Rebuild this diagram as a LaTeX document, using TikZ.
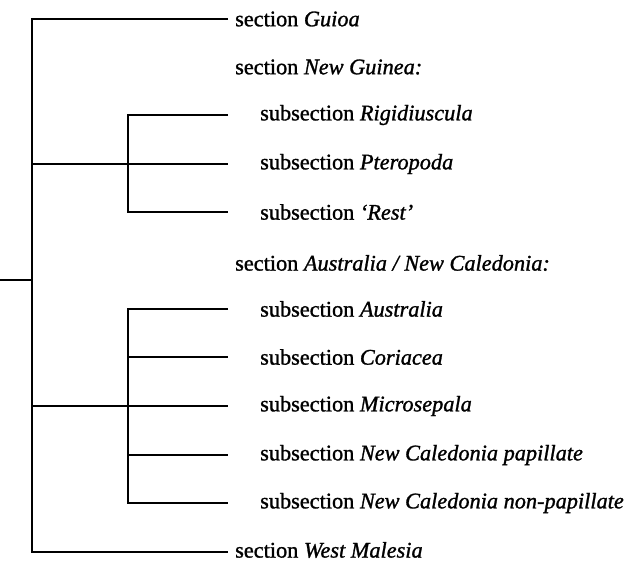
\documentclass[tikz,border=0pt]{standalone}
\usepackage{fontspec}
\setmainfont{Liberation Serif}[FakeBold=1.2, ItalicFeatures={FakeBold=1.2}]
\usetikzlibrary{positioning}

\begin{document}
\begin{tikzpicture}[
    x=1pt, y=-1pt,
    branch/.style={line width=1.3pt},
    sect/.style={anchor=west, inner sep=0pt, font=\fontsize{22.3}{26}\selectfont},
    subsect/.style={sect, xshift=25pt}
]
    \useasboundingbox (0,0) rectangle (629,561);

    % labels
    \node[sect] (guioa) at (235,19) {section \textit{Guioa}};
    \node[sect] (ng) at (235,67) {section \textit{New Guinea:}};
    \node[subsect] (rig) at (235,115) {subsection \textit{Rigidiuscula}};
    \node[subsect] (pter) at (235,164) {subsection \textit{Pteropoda}};
    \node[subsect] (rest) at (235,212) {subsection \textit{`Rest'}};
    \node[sect] (ausnc) at (235,263) {section \textit{Australia / New Caledonia:}};
    \node[subsect] (aus) at (235,309) {subsection \textit{Australia}};
    \node[subsect] (cor) at (235,357) {subsection \textit{Coriacea}};
    \node[subsect] (micro) at (235,406) {subsection \textit{Microsepala}};
    \node[subsect] (ncp) at (235,455) {subsection \textit{New Caledonia papillate}};
    \node[subsect] (ncnp) at (235,503) {subsection \textit{New Caledonia non-papillate}};
    \node[sect] (wm) at (235,550) {section \textit{West Malesia}};

    % branch tips
    \coordinate (tguioa) at (228,19);
    \coordinate (trig) at (228,115);
    \coordinate (tpter) at (228,164);
    \coordinate (trest) at (228,212);
    \coordinate (taus) at (228,309);
    \coordinate (tcor) at (228,357);
    \coordinate (tmicro) at (228,406);
    \coordinate (tncp) at (228,455);
    \coordinate (tncnp) at (228,503);
    \coordinate (twm) at (228,552);

    % junctions
    \coordinate (root) at (0,280);
    \coordinate (spine) at (32,280);
    \coordinate (jng) at (128,164);
    \coordinate (jaus) at (128,406);

    \draw[branch] (root) -- (spine);
    \draw[branch] (tguioa) -| (spine |- twm) -- (twm);
    \draw[branch] (spine |- tpter) -- (tpter);
    \draw[branch] (trig) -| (jng) |- (trest);
    \draw[branch] (spine |- tmicro) -- (tmicro);
    \draw[branch] (taus) -| (jaus) |- (tncnp);
    \draw[branch] (jaus |- tcor) -- (tcor);
    \draw[branch] (jaus |- tncp) -- (tncp);
\end{tikzpicture}
\end{document}
